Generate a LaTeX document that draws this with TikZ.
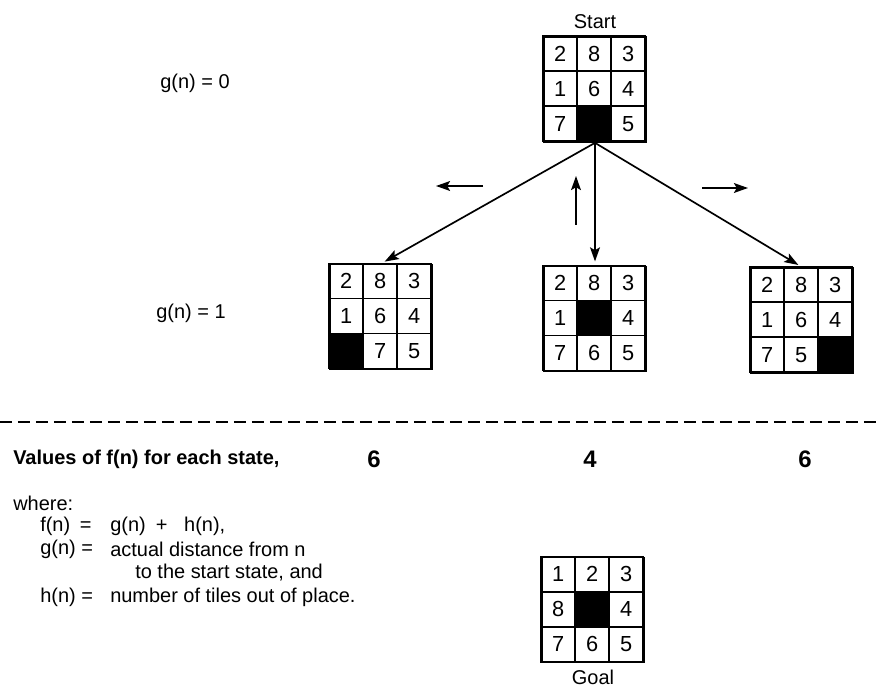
\documentclass[tikz,border=0pt]{standalone}
\usepackage{fontspec}
\setmainfont{Liberation Sans}
\usetikzlibrary{arrows.meta,positioning}

% one 3x3 board drawn into a named board node, 0 = blank tile
\newcommand{\tiles}[2]{%
  \begin{scope}[shift={(#1.north west)}]
    \foreach \v [count=\i from 0] in {#2} {
      \pgfmathtruncatemacro\col{mod(\i,3)}
      \pgfmathtruncatemacro\row{div(\i,3)}
      \ifnum\v=0
        \fill (\col*0.85,-\row*0.875) rectangle ++(0.85,-0.875);
      \else
        \node[tile] (#1-\i) at (\col*0.85+0.425,-\row*0.875-0.4375) {\v};
      \fi
      \draw[cell] (\col*0.85,-\row*0.875) rectangle ++(0.85,-0.875);
    }
  \end{scope}}

\begin{document}
\begin{tikzpicture}[font={\fontsize{14.2}{16.7}\selectfont},
  board/.style={draw, line width=1.2pt, minimum width=2.55cm, minimum height=2.625cm, inner sep=0pt},
  cell/.style={line width=1.2pt},
  tile/.style={inner sep=0pt, font={\fontsize{15.5}{18}\selectfont}},
  lbl/.style={inner sep=0pt, anchor=west},
  fval/.style={font={\fontsize{17}{20}\selectfont\bfseries}, inner sep=0pt},
  arr/.style={-{Stealth[length=10pt,width=7pt,inset=2pt]}, line width=1.2pt, shorten >=3pt},
  move/.style={-{Stealth[length=10pt,width=7pt,inset=2pt]}, line width=1.2pt}]
\useasboundingbox (0,0) rectangle (21.925,-17.325);

% the search tree
\node[board] (start) at (14.875,-2.2375) {};
\node[board] (left) at (9.525,-7.925) {};
\node[board] (mid) at (14.875,-7.975) {};
\node[board] (right) at (20.05,-8.0125) {};
\node[above=1.5pt of start] (starttxt) {Start};
\tiles{start}{2,8,3,1,6,4,7,0,5}
\tiles{left}{2,8,3,1,6,4,0,7,5}
\tiles{mid}{2,8,3,1,0,4,7,6,5}
\tiles{right}{2,8,3,1,6,4,7,5,0}
\draw[arr] (start.south) -- (left.north);
\draw[arr] (start.south) -- (mid.north);
\draw[arr] (start.south) -- (right.north);

% moves of the blank
\coordinate (lt0) at (12.075,-4.65);
\coordinate (lt1) at (10.9,-4.65);
\coordinate (up0) at (14.4,-5.625);
\coordinate (up1) at (14.4,-4.4);
\coordinate (rt0) at (17.55,-4.7);
\coordinate (rt1) at (18.7,-4.7);
\draw[move] (lt0) -- (lt1);
\draw[move] (up0) -- (up1);
\draw[move] (rt0) -- (rt1);

\node[lbl] (g0) at (4.0,-2.075) {g(n) = 0};
\node[lbl] (g1) at (3.9,-7.825) {g(n) = 1};

% separator
\coordinate (dl) at (0,-10.55);
\coordinate (dr) at (21.925,-10.55);
\draw[dash pattern=on 0.3cm off 0.15cm, line width=0.9pt] (dl) -- (dr);

% f(n) values
\node[lbl, font={\fontsize{14.2}{16.7}\selectfont\bfseries}] (vals) at (0.325,-11.475) {Values of f(n) for each state,};
\node[fval] (fleft) at (9.35,-11.475) {6};
\node[fval] (fmid) at (14.75,-11.475) {4};
\node[fval] (fright) at (20.125,-11.475) {6};

\node[lbl] (where) at (0.325,-12.575) {where:};
\node[lbl] (fdef) at (1.0,-13.15) {f(n)\hspace{0.24cm}=};
\node[lbl] (fsum) at (2.75,-13.15) {g(n)\hspace{0.25cm}+\hspace{0.42cm}h(n),};
\node[lbl] (gdef) at (1.0,-13.725) {g(n) =};
\node[lbl] (gtxt) at (2.75,-13.725) {actual distance from n};
\node[lbl] (gtxt2) at (3.375,-14.325) {to the start state, and};
\node[lbl] (hdef) at (1.0,-14.925) {h(n) =};
\node[lbl] (htxt) at (2.75,-14.925) {number of tiles out of place.};

% goal state
\node[board] (goal) at (14.825,-15.25) {};
\node[below=1pt of goal] (goaltxt) {Goal};
\tiles{goal}{1,2,3,8,0,4,7,6,5}
\end{tikzpicture}
\end{document}
